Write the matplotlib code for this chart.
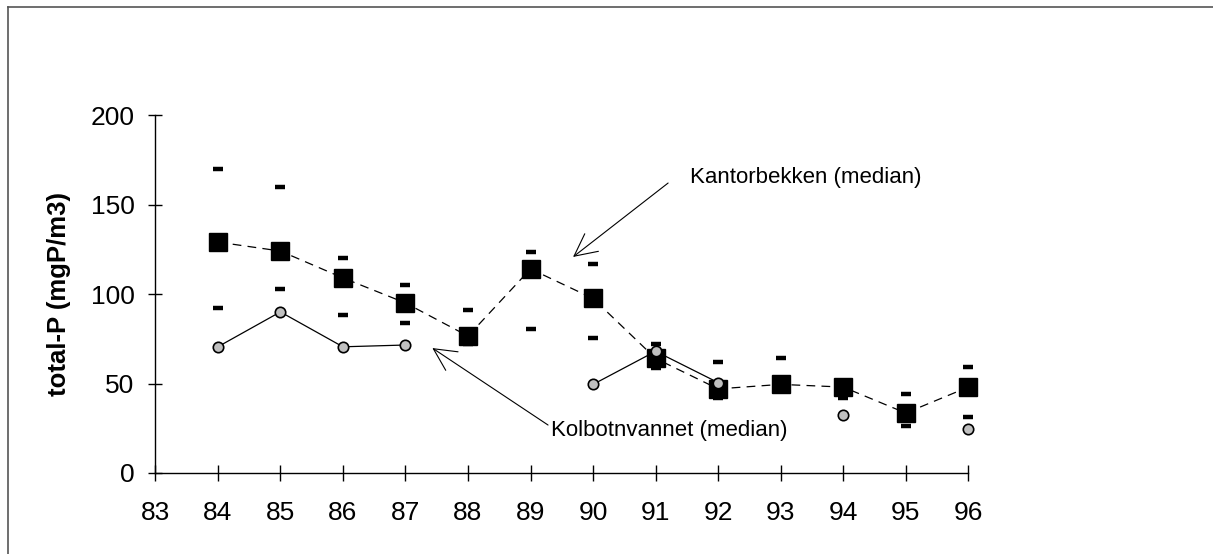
import numpy as np
import matplotlib
matplotlib.use("Agg")
import matplotlib.pyplot as plt
from matplotlib.lines import Line2D

plt.rcParams['font.family'] = ['Liberation Sans', 'DejaVu Sans']

years = [84, 85, 86, 87, 88, 89, 90, 91, 92, 93, 94, 95, 96]
kantor_median = [129, 124, 109, 95, 76.5, 114, 97.5, 64, 47, 49.5, 48, 33.5, 48]
kantor_max = [170, 160, 120, 105, 91, 123.5, 117, 72, 62, 64, 50, 44, 59]
kantor_min = [92, 103, 88, 84, 72, 80.5, 75.5, 58.5, 42, 46, 42, 26.5, 31.5]
kolbotn_median = [70.5, 90, 70.5, 71.5, np.nan, np.nan, 49.5, 68, 50.5, np.nan, 32.5, np.nan, 24.5]
xtick_labels = ['83', '84', '85', '86', '87', '88', '89', '90', '91', '92', '93', '94', '95', '96']
yticks = [0, 50, 100, 150, 200]

fig = plt.figure(figsize=(12.13, 5.54), dpi=100)
W, H = 1213, 554
ax = fig.add_axes([155.3 / W, 1 - 473 / H, (968.3 - 155.3) / W, (473 - 115) / H])

# frame lines (left and top) of the figure
fig.add_artist(Line2D([8 / W, 8 / W], [0, 1 - 7 / H], color='#555555', lw=1.2, transform=fig.transFigure))
fig.add_artist(Line2D([8 / W, 1], [1 - 7 / H, 1 - 7 / H], color='#555555', lw=1.2, transform=fig.transFigure))

ax.plot(years, kantor_max, linestyle='none', marker='_', markersize=7, markeredgewidth=3.2,
        color='black', zorder=3, clip_on=False)
ax.plot(years, kantor_min, linestyle='none', marker='_', markersize=7, markeredgewidth=3.2,
        color='black', zorder=3, clip_on=False)
ax.plot(years, kantor_median, linestyle=(0, (7, 5)), lw=0.9, color='black', marker='s', markersize=12.5,
        markerfacecolor='black', markeredgecolor='black', zorder=4, clip_on=False)
ax.plot(years, kolbotn_median, linestyle='-', lw=0.9, color='black', marker='o', markersize=7.5,
        markerfacecolor='#c0c0c0', markeredgecolor='black', markeredgewidth=1.2, zorder=5, clip_on=False)

ax.set_xlim(83, 96)
ax.set_ylim(0, 200)
ax.set_xticks(range(83, 97))
ax.set_xticklabels(xtick_labels, fontsize=19)
ax.set_yticks(yticks)
ax.set_yticklabels([str(v) for v in yticks], fontsize=19)
ax.tick_params(axis='x', direction='inout', length=12, width=1, color='black', pad=14)
ax.tick_params(axis='y', direction='inout', length=10, width=1, color='black', pad=10)
for s in ['top', 'right']:
    ax.spines[s].set_visible(False)
for s in ['left', 'bottom']:
    ax.spines[s].set_linewidth(1)
ax.set_ylabel('total-P (mgP/m3)', fontsize=18.5, fontweight='bold', labelpad=14)

arrow_kw = dict(arrowstyle='->, head_length=0.4, head_width=0.2', lw=0.8, color='black',
                mutation_scale=40, shrinkA=0, shrinkB=0)
ax.annotate('', xy=(89.68, 120.7), xytext=(91.2, 162), arrowprops=arrow_kw, annotation_clip=False)
ax.text(91.55, 165, 'Kantorbekken (median)', fontsize=16, ha='left', va='center')
ax.annotate('', xy=(87.43, 69.8), xytext=(89.28, 26.8), arrowprops=arrow_kw, annotation_clip=False)
ax.text(89.33, 24, 'Kolbotnvannet (median)', fontsize=16, ha='left', va='center')

fig.savefig('out.png', dpi=100)
